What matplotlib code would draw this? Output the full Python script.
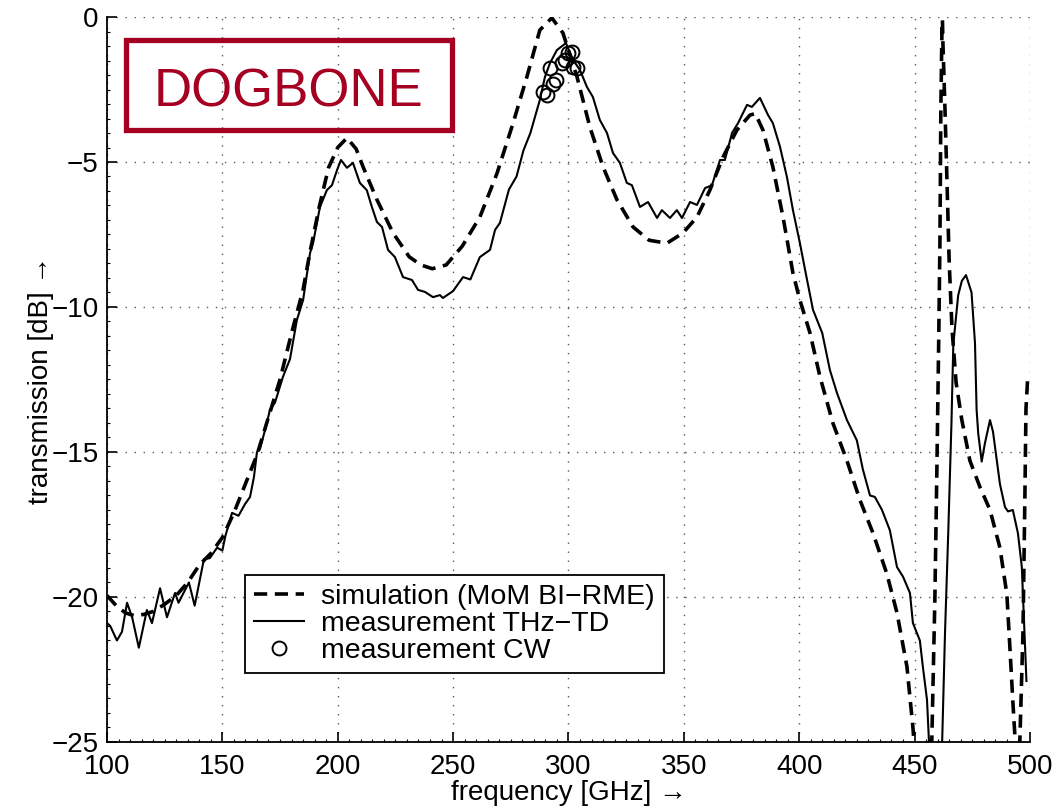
import matplotlib
matplotlib.use('Agg')
import matplotlib.pyplot as plt
from matplotlib.patches import Rectangle
from matplotlib.ticker import MultipleLocator

plt.rcParams['font.family'] = ['Liberation Sans', 'DejaVu Sans']
plt.rcParams['lines.scale_dashes'] = False

# simulation (MoM BI-RME)
sim_f = [100, 104, 108, 112, 116, 120, 125, 130, 135, 140, 145, 150, 155, 160, 165,
         170, 175, 180, 185, 188, 192, 196, 200, 204, 208, 211, 217, 224, 231, 236,
         241, 247, 254, 261.6, 269, 276, 282, 287.6, 292.8, 297.6, 303.7, 309.3, 315,
         321, 328, 335, 342.7, 349.6, 355.7, 361.3, 367, 373, 378.7, 381, 384.3,
         388.6, 393, 397.3, 400.3, 404.7, 409, 414.6, 420.7, 426.3, 432, 438, 442.4,
         446.7, 449.3, 452, 455, 457.5, 458.8, 459.7, 460.5, 461, 461.4, 461.9,
         462.1, 462.3, 463.2, 464, 465, 466.2, 468, 470.5, 474, 478.3, 482.7, 487,
         490, 491.3, 492.6, 493.5, 494.5, 495.7, 497, 497.8, 498.3, 499, 500]
sim_db = [-19.95, -20.3, -20.55, -20.65, -20.6, -20.5, -20.25, -19.95, -19.5, -18.9,
          -18.5, -17.95, -17.1, -16.1, -15.1, -13.8, -12.5, -10.9, -9.4, -8.1, -6.55,
          -5.2, -4.5, -4.17, -4.55, -5.17, -6.3, -7.45, -8.27, -8.55, -8.68, -8.55,
          -7.9, -6.9, -5.4, -3.66, -2.06, -0.45, -0.03, -0.55, -2.06, -3.8, -5.17,
          -6.3, -7.24, -7.7, -7.8, -7.45, -6.9, -5.97, -4.83, -3.9, -3.38, -3.33,
          -3.9, -5.17, -6.9, -8.83, -9.76, -10.9, -12.4, -14.0, -15.3, -16.65, -17.8,
          -19.2, -20.55, -22.4, -24.5, -27.5, -30, -24.9, -20.1, -15.5, -11.0, -7.8,
          -3.2, -0.3, -0.1, -0.9, -3.2, -5.5, -8.4, -10.7, -12.6, -13.9, -15.3, -16.2,
          -17.0, -18.3, -19.9, -21.7, -23.6, -24.8, -28, -24.8, -21.2, -16.7, -13.5,
          -12.5, -12.4]

# measurement THz-TD
td_f = [100, 101.4, 104.3, 106.5, 108.7, 110.9, 113.8, 116.6, 117.3, 119.5, 123, 126,
        129.5, 131, 135.5, 138, 142, 144.6, 147.7, 150, 151.3, 154.2, 157, 159.8, 162,
        163.7, 165, 166.3, 169.3, 170.6, 172.8, 176.3, 179.3, 182.3, 185, 188, 189.3,
        192.3, 195.3, 197.5, 199.7, 201.4, 204, 206.6, 209.6, 212.6, 214.8, 217, 219.2,
        221.8, 224.8, 228.3, 232.2, 234.8, 237.8, 241.3, 244.3, 245.6, 250, 254.3,
        257.5, 261.6, 266, 268.2, 270.3, 274.2, 277.5, 280.5, 283.5, 286, 287.6, 289.8,
        292, 295, 298.9, 302, 305, 308, 310.6, 313.6, 316.7, 319.3, 322.3, 325.3, 327.5,
        331, 334.5, 338.4, 340.5, 344, 347, 349.2, 352.7, 355.7, 359.2, 362.2, 365.7,
        367.8, 370.9, 373.5, 377.4, 379.5, 383, 386.5, 388.6, 391.7, 394.7, 397.3,
        400.3, 403, 406, 410, 413.3, 416.4, 420.7, 425, 427.6, 430.7, 432.8, 435.9,
        439.3, 442.4, 445, 448, 449.3, 452.3, 453.6, 455.4, 456.2, 457.5, 459, 460.5,
        462, 463.2, 464.6, 466, 466.8, 468.9, 470.5, 472.3, 474.7, 476.2, 476.9, 477.6,
        479.1, 480.5, 482.7, 484, 487, 489.2, 490.5, 492.6, 494.8, 496.5, 497.4, 498.5]
td_db = [-20.9, -21.0, -21.5, -21.2, -20.2, -20.7, -21.75, -20.7, -20.45, -20.9, -19.7,
         -20.7, -19.86, -20.2, -19.5, -20.3, -18.7, -18.66, -18.3, -18.4, -17.9, -17.1,
         -17.2, -16.8, -16.55, -15.86, -15.0, -14.9, -14.0, -13.55, -13.3, -12.4, -11.8,
         -10.45, -9.76, -8.14, -7.8, -6.55, -5.97, -5.8, -5.28, -4.93, -5.2, -5.03,
         -5.72, -5.97, -6.55, -7.07, -7.24, -8.03, -8.28, -8.97, -9.07, -9.41, -9.48,
         -9.66, -9.59, -9.69, -9.45, -8.97, -9.05, -8.28, -8.03, -7.34, -7.1, -5.95,
         -5.5, -4.6, -4.0, -3.3, -2.86, -2.07, -1.59, -1.14, -0.9, -1.48, -1.83, -2.41,
         -2.76, -3.55, -4.0, -4.69, -5.03, -5.72, -5.8, -6.55, -6.38, -6.93, -6.66,
         -6.93, -6.66, -6.93, -6.38, -6.48, -5.9, -5.8, -4.93, -4.93, -4.0, -3.66,
         -3.03, -3.1, -2.79, -3.38, -3.66, -4.48, -5.52, -6.66, -7.79, -8.9, -10.1,
         -10.9, -12.17, -12.97, -13.9, -14.6, -15.6, -16.5, -16.55, -17.0, -17.7,
         -18.97, -19.3, -19.86, -20.9, -21.5, -22.4, -23.55, -24.9, -28, -32, -28,
         -24.9, -21.25, -17.8, -14.0, -11.3, -9.6, -9.1, -8.9, -9.5, -11.25, -13.55,
         -14.36, -15.33, -14.7, -13.9, -14.3, -16.1, -16.9, -17.05, -17.0, -17.8,
         -18.97, -20.7, -22.9]

# measurement CW
cw_f = [289.1, 290.6, 292.0, 293.3, 294.6, 297.1, 298.5, 299.9, 301.4, 302.1, 303.6]
cw_db = [-2.58, -2.69, -1.77, -2.3, -2.17, -1.60, -1.48, -1.25, -1.20, -1.71, -1.77]

fig = plt.figure(figsize=(10.52, 8.10), dpi=100)
ax = fig.add_axes([0.1017, 0.084, 0.8773, 0.895])

ax.plot(sim_f, sim_db, color='black', lw=2.6, dashes=[9.5, 5.5],
        label='simulation (MoM BI\u2212RME)')
ax.plot(td_f, td_db, color='black', lw=1.5, label='measurement THz\u2212TD')
ax.plot(cw_f, cw_db, 'o', mfc='none', mec='black', mew=1.4, ms=10,
        label='measurement CW')

ax.set_xlim(100, 500)
ax.set_ylim(-25, 0)
ax.xaxis.set_major_locator(MultipleLocator(50))
ax.xaxis.set_minor_locator(MultipleLocator(5))
ax.yaxis.set_major_locator(MultipleLocator(5))
ax.yaxis.set_minor_locator(MultipleLocator(0.5))
ax.tick_params(which='major', direction='in', length=7, width=1.2, labelsize=20)
ax.tick_params(axis='x', which='major', pad=9)
ax.tick_params(axis='y', which='major', pad=6)
ax.tick_params(which='minor', direction='in', length=2.5, width=0.8)
ax.grid(True, which='major', color='0.35', lw=1.0, linestyle=(0, (1, 5.5)))

for s in ['top', 'right']:
    ax.spines[s].set_visible(False)
for s in ['left', 'bottom']:
    ax.spines[s].set_linewidth(1.3)

ax.set_xlabel('frequency [GHz] \u2192', fontsize=20, labelpad=0)
ax.set_ylabel('transmission [dB] \u2192', fontsize=20, labelpad=-2)

leg = ax.legend(loc='lower left', bbox_to_anchor=(0.1495, 0.095), borderaxespad=0,
                fontsize=20.5, handlelength=1.75, handletextpad=0.6, labelspacing=0.03,
                borderpad=0.33, fancybox=False, framealpha=1, edgecolor='black')
leg.get_frame().set_linewidth(1.3)

red = '#A50021'
ax.add_patch(Rectangle((0.0206, 0.844), 0.353, 0.124, transform=ax.transAxes,
                       fill=False, edgecolor=red, lw=3.8, zorder=5))
ax.text(0.197, 0.876, 'DOGBONE', transform=ax.transAxes, color=red, fontsize=38,
        ha='center', va='baseline', zorder=5)

fig.savefig('out.png', dpi=100)
